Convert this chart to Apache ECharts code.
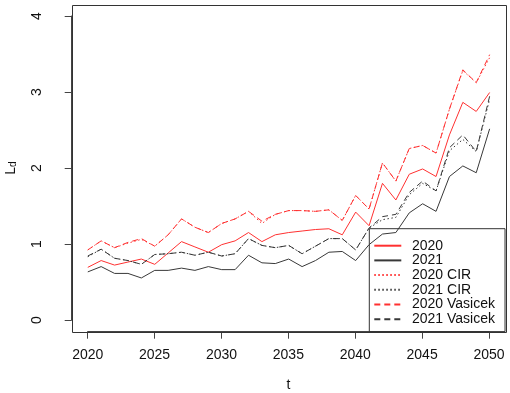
<!DOCTYPE html>
<html>
<head>
<meta charset="utf-8">
<script src="https://cdn.jsdelivr.net/npm/echarts@6/dist/echarts.min.js"></script>
<style>html,body{margin:0;padding:0;background:#fff}#c{width:510px;height:393px}</style>
</head>
<body>
<div id="c"></div>
<script>
const years = [2020,2021,2022,2023,2024,2025,2026,2027,2028,2029,2030,2031,2032,2033,2034,2035,2036,2037,2038,2039,2040,2041,2042,2043,2044,2045,2046,2047,2048,2049,2050];
const xTicks = [2020,2025,2030,2035,2040,2045,2050];
const yTicks = [0,1,2,3,4];
const s2020 = [0.69,0.78,0.72,0.76,0.80,0.73,0.88,1.03,0.96,0.89,0.99,1.04,1.15,1.03,1.12,1.15,1.17,1.19,1.20,1.12,1.42,1.24,1.80,1.58,1.92,1.99,1.89,2.44,2.87,2.75,3.00];
const s2021 = [0.63,0.70,0.61,0.61,0.55,0.65,0.65,0.68,0.65,0.70,0.66,0.66,0.85,0.75,0.74,0.80,0.70,0.78,0.89,0.90,0.78,0.99,1.13,1.15,1.41,1.53,1.43,1.89,2.03,1.94,2.52];
const s2020CIR = [0.92,1.04,0.95,1.01,1.06,0.97,1.12,1.33,1.22,1.15,1.27,1.33,1.43,1.27,1.39,1.44,1.44,1.43,1.45,1.31,1.64,1.46,2.07,1.83,2.26,2.30,2.20,2.78,3.29,3.13,3.46];
const s2021CIR = [0.83,0.93,0.81,0.78,0.73,0.86,0.87,0.89,0.85,0.89,0.84,0.87,1.07,0.98,0.95,0.98,0.87,0.97,1.07,1.07,0.92,1.21,1.32,1.35,1.65,1.80,1.70,2.23,2.38,2.22,2.91];
const s2020Vas = [0.92,1.04,0.95,1.02,1.07,0.97,1.12,1.33,1.22,1.15,1.27,1.33,1.43,1.30,1.39,1.44,1.44,1.43,1.45,1.31,1.64,1.46,2.07,1.83,2.26,2.30,2.20,2.78,3.30,3.13,3.50];
const s2021Vas = [0.84,0.93,0.81,0.78,0.73,0.86,0.87,0.89,0.85,0.89,0.84,0.87,1.07,0.98,0.95,0.98,0.87,0.97,1.07,1.07,0.92,1.21,1.36,1.39,1.68,1.83,1.70,2.27,2.44,2.22,2.95];
const names = ['2020','2021','2020 CIR','2021 CIR','2020 Vasicek','2021 Vasicek'];

const W = 510, H = 393;
const G = { left: 71.7, right: 4.3, top: 4.7, bottom: 61.3 };
const RED = '#ff3030', BLK = '#383838';
const DOT = [1.5, 2.5], DASH = [6, 4];
function mk(name, vals, color, type) {
  return {
    name, type: 'line', xAxisIndex: 0, yAxisIndex: 0,
    data: years.map((y, i) => [y, vals[i]]),
    symbol: 'none', showSymbol: false, smooth: false, animation: false,
    lineStyle: { color, width: 1, type },
    itemStyle: { color }
  };
}
const chart = echarts.init(document.getElementById('c'), null, { renderer: 'canvas' });
const font = 'Liberation Sans, Arial, sans-serif';
const nob = { containLabel: false, outerBoundsMode: 'none' };
chart.setOption({
  animation: false,
  textStyle: { fontFamily: font },
  graphic: [{
    type: 'rect', silent: true, z: 10,
    shape: { x: Math.round(G.left) + 0.5, y: Math.round(G.top) + 0.5, width: Math.round(W - G.left - G.right), height: Math.round(H - G.top - G.bottom) },
    style: { fill: null, stroke: '#333', lineWidth: 1 }
  }],
  grid: [
    Object.assign({}, nob, G),
    Object.assign({}, nob, { left: 87.7, right: 21, top: G.top, bottom: G.bottom }),
    Object.assign({}, nob, { left: G.left, right: G.right, top: 16, bottom: 73 })
  ],
  xAxis: [
    { type: 'value', gridIndex: 0, min: 2018.8, max: 2051.2, show: false },
    { type: 'value', gridIndex: 1, min: 2020, max: 2050, interval: 5, position: 'bottom',
      axisLine: { show: true, onZero: false, lineStyle: { color: '#444', width: 1 } },
      axisTick: { show: true, length: 7, lineStyle: { color: '#444' } },
      splitLine: { show: false },
      axisLabel: { color: '#111', fontSize: 14, margin: 16, fontFamily: font, formatter: v => xTicks.includes(v) ? String(v) : '' },
      name: 't', nameLocation: 'middle', nameGap: 46, nameTextStyle: { color: '#111', fontSize: 14, fontFamily: font } },
    { type: 'value', gridIndex: 2, min: 0, max: 1, show: false }
  ],
  yAxis: [
    { type: 'value', gridIndex: 0, min: -0.16, max: 4.16, show: false },
    { type: 'value', gridIndex: 1, min: 0, max: 1, show: false },
    { type: 'value', gridIndex: 2, min: 0, max: 4, interval: 1, position: 'left',
      axisLine: { show: true, onZero: false, lineStyle: { color: '#444', width: 1 } },
      axisTick: { show: true, length: 7, lineStyle: { color: '#444' } },
      splitLine: { show: false },
      axisLabel: { show: false },
      name: 'L{s|d}', nameLocation: 'middle', nameGap: 53, nameRotate: 90,
      nameTextStyle: { color: '#111', fontSize: 14, fontFamily: font, rich: { s: { fontSize: 10, verticalAlign: 'bottom', padding: [6, 0, 0, 0] } } } },
    { type: 'value', gridIndex: 2, min: 0, max: 4, interval: 1, position: 'left', offset: 22,
      axisLine: { show: false }, axisTick: { show: false }, splitLine: { show: false },
      axisLabel: { color: '#111', fontSize: 14, margin: 6, rotate: 90, fontFamily: font, formatter: v => yTicks.includes(v) ? String(v) : '' } }
  ],
  legend: {
    data: names, orient: 'vertical', left: 369.3, top: 228.7,
    padding: [10, 10, 5.4, 4], itemWidth: 27, itemHeight: 10, itemGap: 0.7,
    borderColor: '#333', borderWidth: 1, borderRadius: 0,
    itemStyle: { opacity: 0 },
    textStyle: { color: '#111', fontSize: 14, fontFamily: font, padding: [0, 0, 0, 5.7], lineHeight: 14 }
  },
  series: [
    mk(names[0], s2020, RED, 'solid'),
    mk(names[1], s2021, BLK, 'solid'),
    mk(names[2], s2020CIR, RED, DOT),
    mk(names[3], s2021CIR, BLK, DOT),
    mk(names[4], s2020Vas, RED, DASH),
    mk(names[5], s2021Vas, BLK, DASH)
  ]
});
</script>
</body>
</html>
